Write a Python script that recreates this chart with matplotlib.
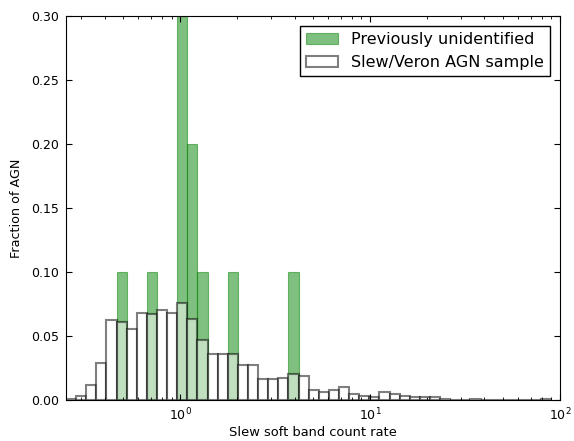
import numpy as np
import matplotlib
matplotlib.use("Agg")
import matplotlib.pyplot as plt

# log-spaced bins over the soft band count rate
edges = np.logspace(np.log10(0.25), np.log10(90), 49)
centers = np.sqrt(edges[:-1] * edges[1:])

# fraction of the Slew/Veron AGN sample in each bin
frac_all = [0.001, 0.003, 0.0115, 0.029, 0.0625, 0.061, 0.0557, 0.068,
            0.067, 0.070, 0.068, 0.0755, 0.0635, 0.047, 0.036, 0.036,
            0.036, 0.027, 0.027, 0.0167, 0.0167, 0.017, 0.020, 0.019,
            0.0078, 0.0065, 0.0078, 0.0104, 0.0044, 0.0031, 0.0026, 0.0063,
            0.0044, 0.0031, 0.0023, 0.0023, 0.0023, 0.001, 0.0, 0.0,
            0.001, 0.0, 0.0, 0.0, 0.0, 0.0, 0.0, 0.001]

# previously unidentified AGN: occupied bins and their fractions
new_bins = [5, 8, 11, 12, 13, 16, 22]
new_frac = [0.1, 0.1, 0.3, 0.2, 0.1, 0.1, 0.1]

plt.rcParams['font.family'] = ['DejaVu Sans']
plt.rcParams['xtick.direction'] = 'in'
plt.rcParams['ytick.direction'] = 'in'
plt.rcParams['xtick.top'] = True
plt.rcParams['ytick.right'] = True
plt.rcParams['xtick.major.size'] = 4
plt.rcParams['ytick.major.size'] = 4
plt.rcParams['xtick.minor.size'] = 2
plt.rcParams['ytick.minor.size'] = 2

fig = plt.figure(figsize=(5.74, 4.41), dpi=100)
ax = fig.add_axes([0.115, 0.093, 0.8606, 0.8707])

ax.hist(centers[new_bins], bins=edges, weights=new_frac, facecolor='g',
        edgecolor='g', lw=0.8, alpha=0.5, label='Previously unidentified')
ax.hist(centers, bins=edges, weights=frac_all, facecolor='w',
        edgecolor='k', lw=1.5, alpha=0.5, label='Slew/Veron AGN sample')

ax.set_xscale('log')
ax.set_xlim(0.25, 100)
ax.set_ylim(0, 0.30)
ax.set_yticks(np.arange(0, 0.301, 0.05))
ax.yaxis.set_major_formatter(matplotlib.ticker.FormatStrFormatter('%.2f'))
ax.tick_params(labelsize=9, pad=5)
ax.tick_params(axis='x', pad=4.5)

ax.set_xlabel('Slew soft band count rate', fontsize=9.4, labelpad=2)
ax.set_ylabel('Fraction of AGN', fontsize=9.2, labelpad=6)

leg = ax.legend(loc='upper right', fontsize=11.5, fancybox=False,
                framealpha=1, borderaxespad=0.6)
leg.get_frame().set_edgecolor('k')

fig.savefig('out.png', dpi=100)
